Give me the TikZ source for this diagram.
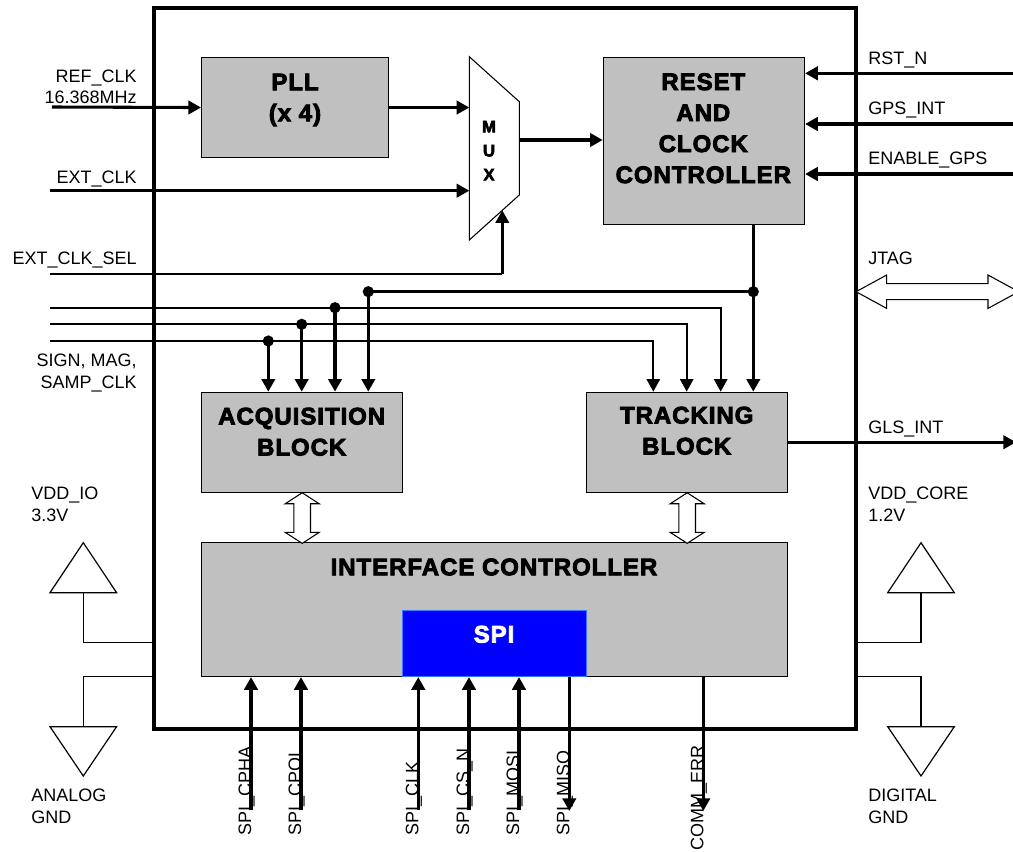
\documentclass[tikz,border=0pt]{standalone}
\usepackage{fontspec}
\setmainfont{Liberation Sans}
\newfontface\heavyfont[FakeBold=3.5, LetterSpace=4]{Liberation Sans Bold}
\usetikzlibrary{positioning,arrows.meta}
\definecolor{blockgray}{RGB}{192,192,192}
\definecolor{spiblue}{RGB}{0,0,255}
\definecolor{spiedge}{RGB}{60,120,255}

\tikzset{
  block/.style={draw=black, fill=blockgray, line width=0.8pt, anchor=north west, inner sep=0pt},
  blocktext/.style={font=\heavyfont\fontsize{18}{23.25}\selectfont, align=center, inner sep=0pt},
  sig/.style={line width=2.3pt, -{Triangle[length=9.5pt,width=10pt]}},
  wire/.style={line width=2.3pt},
  bus/.style={line width=1.3pt},
  busin/.style={line width=1.5pt, -{Triangle[length=9.5pt,width=10pt]}},
  lbl/.style={inner sep=0pt, font=\fontsize{13.5}{15}\selectfont},
  pinlbl/.style={lbl, rotate=90, anchor=base west},
  hollow/.style={draw=black, fill=white, line width=0.8pt, line join=miter},
  pwr/.style={line width=0.9pt}
}

\begin{document}
\begin{tikzpicture}[x=0.75pt, y=-0.75pt]
\useasboundingbox (0,0) rectangle (1013,852);

% Chip outline
\node[draw, line width=3pt, anchor=north west, inner sep=0pt,
      minimum width=526.5pt, minimum height=540.75pt] (chip) at (152,6) {};

% Blocks
\node[block, minimum width=140.25pt, minimum height=75pt] (pll) at (201,57) {};
\node[block, minimum width=151pt, minimum height=125.5pt] (rst) at (602.7,56.7) {};
\node[block, minimum width=151pt, minimum height=75pt] (acq) at (201,391.7) {};
\node[block, minimum width=151pt, minimum height=75pt] (trk) at (586,391.7) {};
\node[block, minimum width=439.7pt, minimum height=100.3pt] (ifc) at (201,542.3) {};
\node[block, draw=spiedge, fill=spiblue, minimum width=137.8pt, minimum height=49.5pt] (spi) at (402.3,610) {};

\node[blocktext] (pll-t) at (295,100) {PLL\\(x 4)};
\node[blocktext] (rst-t) at (703.3,128.3) {RESET\\AND\\CLOCK\\CONTROLLER};
\node[blocktext] (acq-t) at (301.7,431.7) {ACQUISITION\\BLOCK};
\node[blocktext] (trk-t) at (686.7,430.7) {TRACKING\\BLOCK};
\node[blocktext] (ifc-t) at (494,567) {INTERFACE CONTROLLER};
\node[blocktext, text=white] (spi-t) at (494,634.3) {SPI};

% MUX
\coordinate (mux-tl) at (469.3,56.7);
\coordinate (mux-tr) at (519.3,101.7);
\coordinate (mux-br) at (519.3,195);
\coordinate (mux-bl) at (469.3,240);
\coordinate (mux-o) at (519.3,140);
\coordinate (mux-s) at (502.3,210.3);
\draw[line width=0.8pt, fill=white] (mux-tl) -- (mux-tr) -- (mux-br) -- (mux-bl) -- cycle;
\node[blocktext, font=\heavyfont\fontsize{12.5}{18}\selectfont] (mux-t) at (489,150.7) {M\\U\\X};

% Clock inputs
\coordinate (refclk-in) at (52,107);
\coordinate (extclk-in) at (50,190.7);
\coordinate (sel-in) at (50,274);
\draw[sig] (refclk-in) -- (pll.west);
\draw[sig] (pll.east) -- (pll.east -| mux-tl);
\draw[sig] (extclk-in) -- (extclk-in -| mux-tl);
\draw[sig] (mux-o) -- (mux-o -| rst.west);
\draw[bus] (sel-in) -- (sel-in -| mux-s);
\draw[sig] (sel-in -| mux-s) -- (mux-s);

\node[lbl, anchor=base east] (refclk-l) at (137,82.2) {REF\_CLK};
\node[lbl, anchor=base east] (refclk-f) at (137,103.2) {16.368MHz};
\node[lbl, anchor=base east] (extclk-l) at (137,183.2) {EXT\_CLK};
\node[lbl, anchor=base east] (sel-l) at (137,264.2) {EXT\_CLK\_SEL};
\node[lbl, anchor=base east] (smp-l) at (137,366.2) {SIGN, MAG,};
\node[lbl, anchor=base east] (smp-f) at (137,388) {SAMP\_CLK};

% Control inputs on the right
\foreach \name/\y/\txt in {rstn/73.3/RST\_N, gpsint/124/GPS\_INT, engps/174/ENABLE\_GPS} {
  \coordinate (\name-in) at (1013,\y);
  \draw[sig] (\name-in) -- (\name-in -| rst.east);
  \node[lbl, anchor=base west] (\name-l) at (868,\y-9.1) {\txt};
}

% Reset / clock distribution
\coordinate (jn-r) at (753.3,291.7);
\coordinate (jn-a) at (368.3,291.7);
\draw[wire] (rst.south -| jn-r) -- (jn-r);
\draw[sig] (jn-r) -- (trk.north -| jn-r);
\draw[wire] (jn-r) -- (jn-a);
\draw[sig] (jn-a) -- (acq.north -| jn-a);
\fill (jn-r) circle (4.2pt);
\fill (jn-a) circle (4.2pt);

% Sample bus
\foreach \y/\xa/\xt [count=\i] in {307.7/335/720.7, 324.3/301.7/686.7, 341/268.3/653.3} {
  \coordinate (bus\i-in) at (50,\y);
  \coordinate (bus\i-a) at (\xa,\y);
  \coordinate (bus\i-t) at (\xt,\y);
  \draw[busin] (bus\i-in) -- (bus\i-t) -- (trk.north -| bus\i-t);
  \draw[sig] (bus\i-a) -- (acq.north -| bus\i-a);
  \fill (bus\i-a) circle (4.2pt);
}

% JTAG
\coordinate (jtag-a) at (856,291.7);
\draw[hollow] (jtag-a) -- ++(30.7,-16.7) -- ++(0,8.7) -- ++(101.3,0) -- ++(0,-8.7)
  -- ++(30.7,16.7) -- ++(-30.7,16.7) -- ++(0,-8.7) -- ++(-101.3,0) -- ++(0,8.7) -- cycle;
\node[lbl, anchor=base west] (jtag-l) at (868,264.2) {JTAG};

% GLS_INT
\coordinate (gls-out) at (1016,442.3);
\draw[sig] (trk.east) -- (gls-out |- trk.east);
\node[lbl, anchor=base west] (gls-l) at (868,433) {GLS\_INT};

% Block to interface controller
\foreach \blk in {acq, trk}
  \draw[hollow] (\blk.south) -- ++(17,11) -- ++(-8.7,0) -- ++(0,28.6) -- ++(8.7,0)
    -- ++(-17,11) -- ++(-17,-11) -- ++(8.7,0) -- ++(0,-28.6) -- ++(-8.7,0) -- cycle;

% SPI pins
\foreach \name/\x/\txt in {cpha/251/SPI\_CPHA, cpol/301/SPI\_CPOL, clk/418.3/SPI\_CLK, csn/469/SPI\_CS\_N, mosi/519/SPI\_MOSI} {
  \coordinate (\name-in) at (\x,810);
  \draw[sig] (\name-in) -- (\name-in |- ifc.south);
  \node[pinlbl] (\name-l) at (\x,836) {\txt};
}
\coordinate (miso-out) at (569.3,811);
\draw[sig] (miso-out |- ifc.south) -- (miso-out);
\node[pinlbl] (miso-l) at (569.3,836) {SPI\_MISO};
\coordinate (err-out) at (703.3,811);
\draw[sig] (err-out |- ifc.south) -- (err-out);
\node[pinlbl] (err-l) at (703.3,851) {COMM\_ERR};

% Power, left
\coordinate (vio) at (83.3,592.7);
\coordinate (vio-j) at (83.3,642.7);
\coordinate (agnd-j) at (83.3,676.7);
\coordinate (agnd) at (83.3,726.7);
\draw[pwr] (vio) ++(-33.3,0) -- ++(66.6,0) -- ++(-33.3,-50) -- cycle;
\draw[pwr] (vio) -- (vio-j) -- (vio-j -| chip.west);
\draw[pwr] (agnd-j -| chip.west) -- (agnd-j) -- (agnd);
\draw[pwr] (agnd) ++(-33.3,0) -- ++(66.6,0) -- ++(-33.3,49.3) -- cycle;
\node[lbl, anchor=base west] (vio-l) at (31,499.2) {VDD\_IO};
\node[lbl, anchor=base west] (vio-v) at (31,521.2) {3.3V};
\node[lbl, anchor=base west] (agnd-l) at (31,801.2) {ANALOG};
\node[lbl, anchor=base west] (agnd-g) at (31,823) {GND};

% Power, right
\coordinate (vcore) at (921,592.7);
\coordinate (vcore-j) at (921,642.7);
\coordinate (dgnd-j) at (921,676.7);
\coordinate (dgnd) at (921,726.7);
\draw[pwr] (vcore) ++(-33.3,0) -- ++(66.6,0) -- ++(-33.3,-50) -- cycle;
\draw[pwr] (vcore) -- (vcore-j) -- (vcore-j -| chip.east);
\draw[pwr] (dgnd-j -| chip.east) -- (dgnd-j) -- (dgnd);
\draw[pwr] (dgnd) ++(-33.3,0) -- ++(66.6,0) -- ++(-33.3,49.3) -- cycle;
\node[lbl, anchor=base west] (vcore-l) at (868,499.2) {VDD\_CORE};
\node[lbl, anchor=base west] (vcore-v) at (868,521.2) {1.2V};
\node[lbl, anchor=base west] (dgnd-l) at (868,801.2) {DIGITAL};
\node[lbl, anchor=base west] (dgnd-g) at (868,823) {GND};
\end{tikzpicture}
\end{document}
